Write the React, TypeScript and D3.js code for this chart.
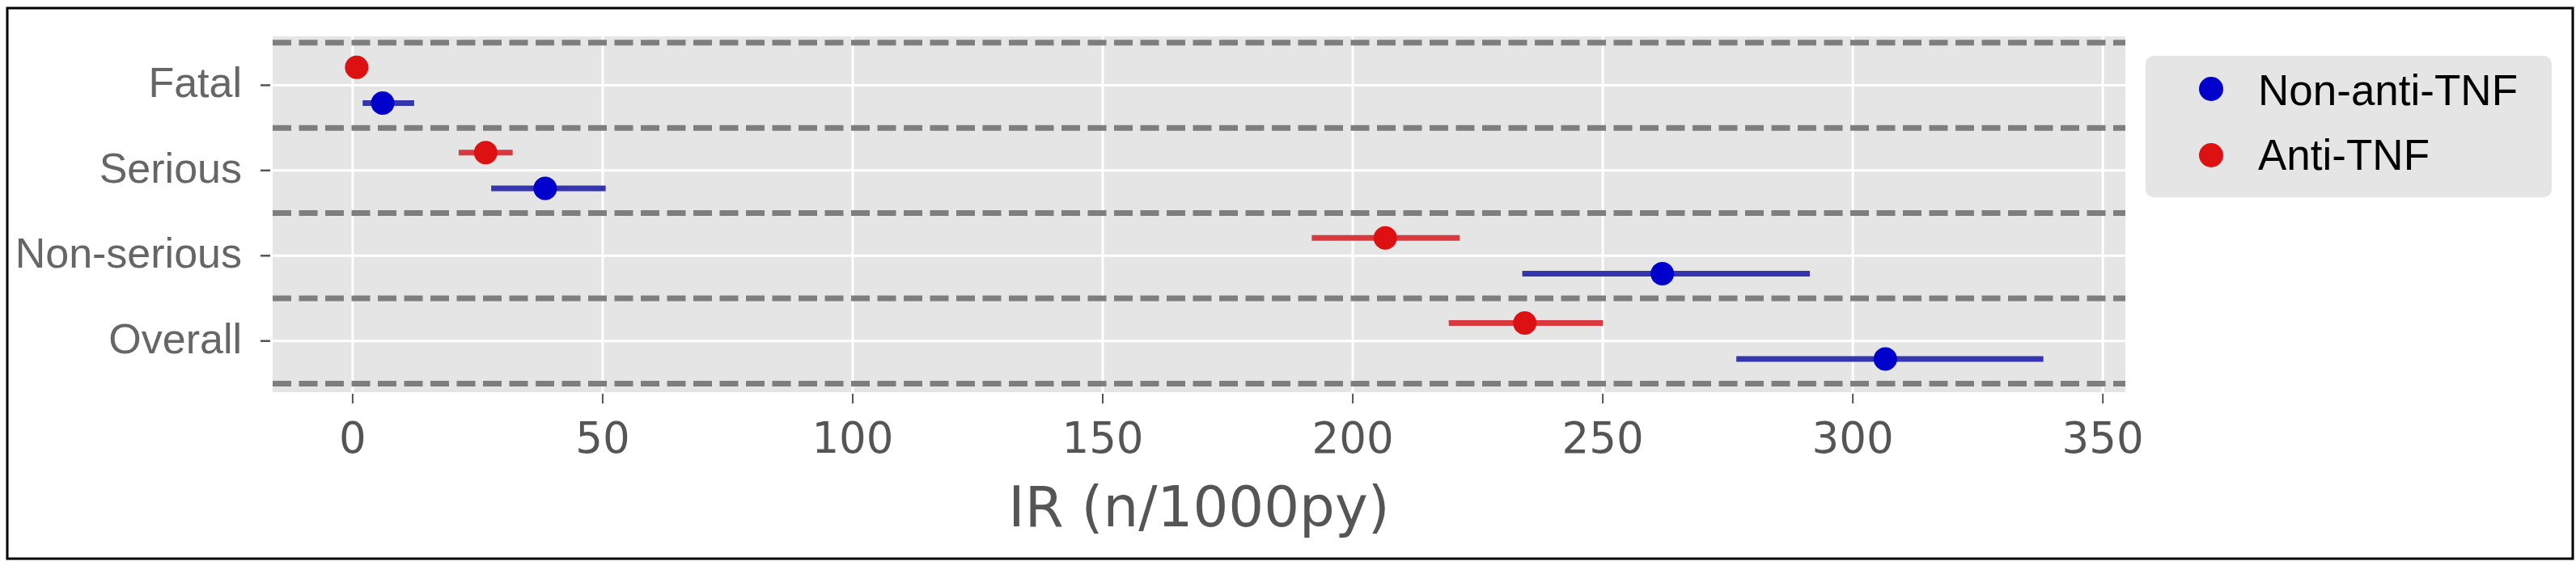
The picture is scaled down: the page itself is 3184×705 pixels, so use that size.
import React from 'react';
import * as d3 from 'd3';

// incidence rate (n/1000py) per severity class, with 95% CI
const categories = ['Fatal', 'Serious', 'Non-serious', 'Overall'];

const antiTnfIR = [0.8, 26.6, 206.5, 234.4];
const antiTnfLow = [0.3, 21.2, 191.8, 219.2];
const antiTnfHigh = [1.5, 32.0, 221.4, 250.0];

const nonAntiTnfIR = [6.0, 38.5, 261.9, 306.5];
const nonAntiTnfLow = [2.0, 27.7, 233.9, 276.7];
const nonAntiTnfHigh = [12.3, 50.6, 291.4, 338.1];

const xTicks = [0, 50, 100, 150, 200, 250, 300, 350];
const legendLabels = ['Non-anti-TNF', 'Anti-TNF'];

const W = 3184;
const H = 705;
const plot = { left: 337, right: 2627, top: 45, bottom: 485 };

const App = () => {
  const x = d3.scaleLinear().domain([-16, 354.5]).range([plot.left, plot.right]);
  const y = d3.scaleLinear().domain([-0.573, 3.6]).range([plot.top, plot.bottom]);

  const series = [
    { name: 'anti', ir: antiTnfIR, lo: antiTnfLow, hi: antiTnfHigh, offset: -0.21, dot: '#dd1111', bar: '#d9383e' },
    { name: 'non', ir: nonAntiTnfIR, lo: nonAntiTnfLow, hi: nonAntiTnfHigh, offset: 0.21, dot: '#0000cc', bar: '#3535ad' },
  ];

  const separators = d3.range(categories.length + 1).map(i => i - 0.5);

  return (
    <svg width={W} height={H} style={{ position: 'absolute', left: 0, top: 0, display: 'block' }}>
      <rect x={0} y={0} width={W} height={H} fill="#fff" />
      <rect x={9} y={10} width={3171} height={681} fill="none" stroke="#000" strokeWidth={3} />

      {/* panel */}
      <rect x={plot.left} y={plot.top} width={plot.right - plot.left} height={plot.bottom - plot.top} fill="#e5e5e5" />
      {xTicks.map(t => (
        <line key={'gx' + t} x1={x(t)} x2={x(t)} y1={plot.top} y2={plot.bottom} stroke="#fff" strokeWidth={3} />
      ))}
      {categories.map((c, i) => (
        <line key={'gy' + c} x1={plot.left} x2={plot.right} y1={y(i)} y2={y(i)} stroke="#fff" strokeWidth={3} />
      ))}
      {separators.map(s => (
        <line key={'sep' + s} x1={plot.left} x2={plot.right} y1={y(s)} y2={y(s)}
          stroke="#7e7e7e" strokeWidth={7} strokeDasharray="23,9.5" />
      ))}

      {/* error bars + points */}
      {series.map(s => (
        <g key={s.name}>
          {categories.map((c, i) => (
            <g key={c}>
              <line x1={x(s.lo[i])} x2={x(s.hi[i])} y1={y(i + s.offset)} y2={y(i + s.offset)}
                stroke={s.bar} strokeWidth={7} />
              <circle cx={x(s.ir[i])} cy={y(i + s.offset)} r={14.5} fill={s.dot} />
            </g>
          ))}
        </g>
      ))}

      {/* x axis */}
      {xTicks.map(t => (
        <g key={'tx' + t}>
          <line x1={x(t)} x2={x(t)} y1={plot.bottom + 2} y2={plot.bottom + 14} stroke="#555" strokeWidth={2} />
          <text x={x(t)} y={560} textAnchor="middle" fontFamily="DejaVu Sans" fontSize={53} fill="#555">{t}</text>
        </g>
      ))}
      <text x={(plot.left + plot.right) / 2} y={651} textAnchor="middle" fontFamily="DejaVu Sans" fontSize={69} fill="#555">
        IR (n/1000py)
      </text>

      {/* y axis */}
      {categories.map((c, i) => (
        <g key={'ty' + c}>
          <line x1={322} x2={334} y1={y(i)} y2={y(i)} stroke="#555" strokeWidth={2.5} />
          <text x={299} y={y(i) + 15} textAnchor="end" fontFamily="Liberation Sans, Arial, sans-serif" fontSize={52} fill="#666">{c}</text>
        </g>
      ))}

      {/* legend */}
      <rect x={2652} y={69} width={502} height={175} rx={10} fill="#e5e5e5" />
      {legendLabels.map((l, i) => (
        <g key={l}>
          <circle cx={2733} cy={110 + i * 82} r={15} fill={i === 0 ? '#0000cc' : '#dd1111'} />
          <text x={2791} y={130 + i * 80} fontFamily="Liberation Sans, Arial, sans-serif" fontSize={53} fill="#000">{l}</text>
        </g>
      ))}
    </svg>
  );
};

export default App;
